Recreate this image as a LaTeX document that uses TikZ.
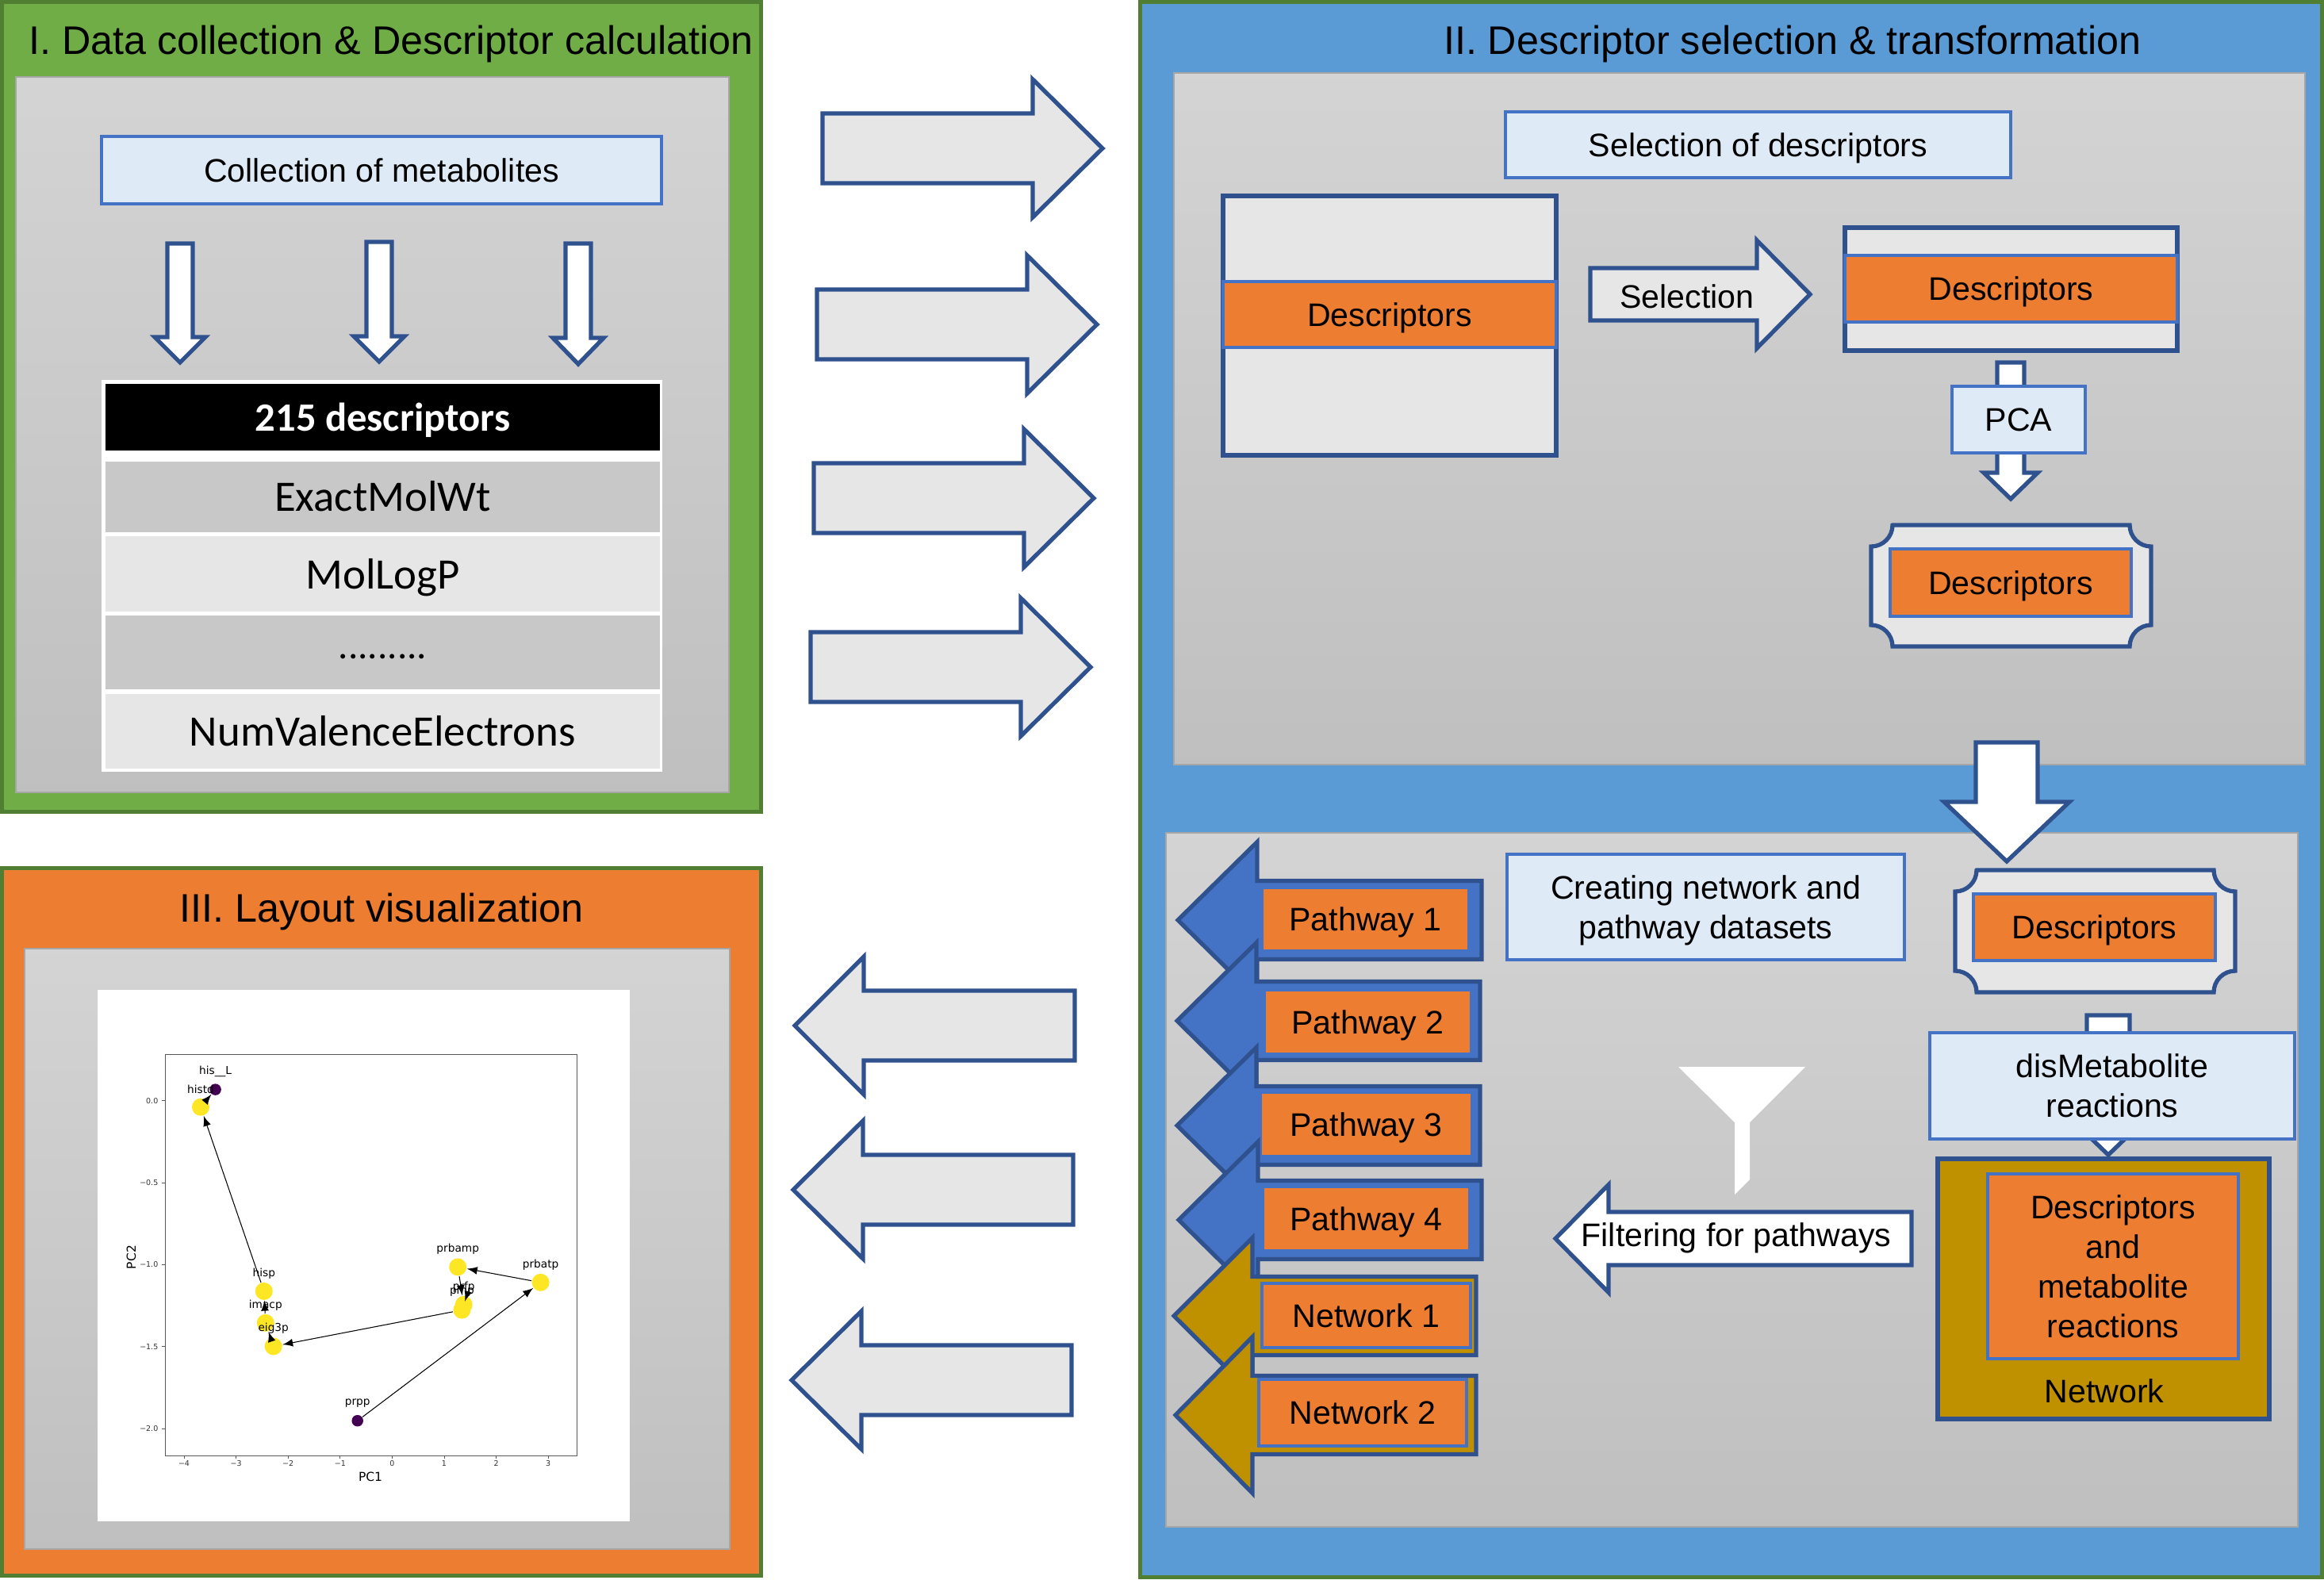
\documentclass[tikz,border=0pt]{standalone}
\usepackage{fontspec}
\setmainfont{Liberation Sans}
\newfontfamily\calfont{Carlito}
\newfontfamily\plotfont{DejaVu Sans}
\definecolor{arrowblue}{HTML}{2F528F}
\definecolor{boxblue}{HTML}{4472C4}
\definecolor{lightblue}{HTML}{DEEAF6}
\definecolor{orangefill}{HTML}{ED7D31}
\definecolor{panelgreen}{HTML}{70AD47}
\definecolor{edgegreen}{HTML}{507E32}
\definecolor{panelblue}{HTML}{5B9BD5}
\definecolor{lightgray}{HTML}{E6E6E6}
\definecolor{rowgray}{HTML}{C8C8C8}
\definecolor{panelline}{HTML}{A6A6A6}
\definecolor{netgold}{HTML}{BF9000}
\definecolor{plotyellow}{HTML}{FDE725}
\definecolor{plotdark}{HTML}{440154}
\begin{document}
\begin{tikzpicture}[panel/.style={rectangle,draw=edgegreen,line width=1.42pt,inner sep=0},textbox/.style={rectangle,draw=boxblue,fill=lightblue,line width=.9pt,align=center,inner sep=0,text depth=0pt,font=\fontsize{11.7}{14.2}\selectfont}]
		\tikzstyle{graypanel}=[rectangle,draw=panelline,line width=.7pt,top color=black!17,bottom color=black!25,inner sep=0]
		\tikzstyle{title}=[inner sep=0,text depth=0pt,font=\fontsize{14.3}{17}\selectfont]
		\tikzstyle{blockarrow}=[draw=arrowblue,line width=1.5pt,miter limit=10]
		\tikzstyle{framebox}=[rectangle,draw=arrowblue,fill=lightgray,line width=1.6pt,inner sep=0]
		\tikzstyle{band}=[rectangle,draw=boxblue,fill=orangefill,line width=.9pt,align=center,inner sep=0,text depth=0pt,font=\fontsize{11.7}{14.2}\selectfont]
		\tikzstyle{tablerow}=[rectangle,inner sep=0,minimum width=6.99cm,font=\calfont\fontsize{15.6}{18}\selectfont]
		\tikzstyle{lbl}=[inner sep=0,align=center,text depth=0pt,font=\fontsize{11.7}{14.2}\selectfont]
		\tikzstyle{plotnode}=[circle,inner sep=0,minimum size=.22cm]
		\tikzstyle{plotedge}=[draw=black,line width=.3pt,-latex]
		\tikzstyle{plottext}=[inner sep=0,font=\plotfont\fontsize{3.9}{5}\selectfont]
		\tikzstyle{ticktext}=[inner sep=0,font=\plotfont\fontsize{2.7}{3}\selectfont,text=black!80]
		\useasboundingbox (0,0) rectangle (29.30,-19.91);
		
		% panels
		\node[panel,fill=panelgreen,minimum width=9.57cm,minimum height=10.21cm] (panelone) at (4.81,-5.13){};
		\node[panel,fill=orangefill,minimum width=9.57cm,minimum height=8.92cm] (panelthree) at (4.81,-15.405){};
		\node[panel,fill=panelblue,minimum width=14.90cm,minimum height=19.86cm] (paneltwo) at (21.825,-9.955){};
		\node[graypanel,minimum width=8.99cm,minimum height=9.02cm] (grayone) at (4.695,-5.48){};
		\node[graypanel,minimum width=8.89cm,minimum height=7.57cm] (graythree) at (4.755,-15.745){};
		\node[graypanel,minimum width=14.26cm,minimum height=8.72cm] (graytwo) at (21.93,-5.28){};
		\node[graypanel,minimum width=14.27cm,minimum height=8.75cm] (grayfour) at (21.835,-14.875){};
		\node[title] (titleone) at (4.93,-.50){I. Data collection \& Descriptor calculation};
		\node[title] (titletwo) at (22.60,-.50){II. Descriptor selection \& transformation};
		\node[title] (titlethree) at (4.81,-11.44){III. Layout visualization};
		
		% horizontal block arrows: tail, head base, tip, centre, half widths
		\foreach \ta/\ba/\ti/\yy/\sh/\hh/\col in {
			10.37/13.02/13.90/-1.87/.44/.87/lightgray,
			10.30/12.95/13.83/-4.09/.44/.87/lightgray,
			10.26/12.91/13.79/-6.28/.44/.87/lightgray,
			10.22/12.87/13.75/-8.41/.44/.87/lightgray,
			13.55/10.89/10.02/-12.93/.44/.87/lightgray,
			13.53/10.88/10.00/-15.00/.44/.87/lightgray,
			13.51/10.86/9.98/-17.40/.44/.87/lightgray,
			20.05/22.15/22.82/-3.71/.33/.68/lightgray,
			24.10/20.28/19.61/-15.615/.335/.68/white}
		{\draw[blockarrow,fill=\col] (\ta,\yy+\sh) -- (\ba,\yy+\sh) -- (\ba,\yy+\hh) -- (\ti,\yy) -- (\ba,\yy-\hh) -- (\ba,\yy-\sh) -- (\ta,\yy-\sh) -- cycle;}
		
		% vertical block arrows: centre, top, head base, tip, half widths
		\foreach \xx/\ta/\ba/\ti/\sh/\hh in {
			2.27/-3.07/-4.25/-4.57/.16/.32,
			4.78/-3.05/-4.24/-4.56/.16/.32,
			7.29/-3.07/-4.26/-4.59/.16/.32,
			25.35/-4.57/-5.96/-6.29/.17/.34,
			25.30/-9.36/-10.11/-10.86/.39/.79,
			26.58/-12.80/-14.08/-14.56/.27/.50}
		{\draw[blockarrow,fill=white] (\xx-\sh,\ta) -- (\xx+\sh,\ta) -- (\xx+\sh,\ba) -- (\xx+\hh,\ba) -- (\xx,\ti) -- (\xx-\hh,\ba) -- (\xx-\sh,\ba) -- cycle;}
		
		% panel I
		\node[textbox,minimum width=7.06cm,minimum height=.85cm] (collect) at (4.81,-2.145){Collection of metabolites};
		\node[rectangle,fill=white,minimum width=7.07cm,minimum height=4.94cm,inner sep=0] (tableback) at (4.815,-7.26){};
		\node[tablerow,fill=black,text=white,text depth=0pt,minimum height=.84cm,font=\calfont\bfseries\fontsize{14.4}{18}\selectfont] (rowhead) at (4.825,-5.26){215 descriptors};
		\node[tablerow,fill=rowgray,minimum height=.89cm] (rowa) at (4.825,-6.265){\raisebox{.02cm}{ExactMolWt}};
		\node[tablerow,fill=lightgray,text depth=0pt,minimum height=.95cm] (rowb) at (4.825,-7.235){MolLogP};
		\node[tablerow,fill=rowgray,text height=.16cm,text depth=0pt,minimum height=.93cm,font=\calfont\fontsize{14}{18}\selectfont] (rowc) at (4.825,-8.225){.........};
		\node[tablerow,fill=lightgray,minimum height=.94cm] (rowd) at (4.825,-9.22){NumValenceElectrons};
		
		% panel II top
		\node[textbox,minimum width=6.37cm,minimum height=.83cm] (selectbox) at (22.165,-1.825){Selection of descriptors};
		\node[framebox,minimum width=4.2cm,minimum height=3.27cm] (largebox) at (17.52,-4.105){};
		\node[band,minimum width=4.2cm,minimum height=.83cm] (largeband) at (17.52,-3.965){Descriptors};
		\node[lbl] (selectlbl) at (21.27,-3.74){Selection};
		\node[framebox,minimum width=4.19cm,minimum height=1.55cm] (smallbox) at (25.355,-3.645){};
		\node[band,minimum width=4.19cm,minimum height=.84cm] (smallband) at (25.355,-3.64){Descriptors};
		\node[textbox,minimum width=1.68cm,minimum height=.84cm] (pca) at (25.45,-5.29){PCA};
		
		% plaques: left, right, top, bottom
		\foreach \xa/\xb/\ya/\yb in {23.59/27.12/-6.62/-8.15,24.65/28.18/-10.97/-12.51}
		{\draw[blockarrow,fill=lightgray] (\xa+.27,\ya) -- (\xb-.27,\ya) arc (180:270:.27) -- (\xb,\yb+.27) arc (90:180:.27) -- (\xa+.27,\yb) arc (0:90:.27) -- (\xa,\ya-.27) arc (270:360:.27) -- cycle;}
		\node[band,minimum width=3.04cm,minimum height=.85cm] (planda) at (25.35,-7.345){Descriptors};
		\node[band,minimum width=3.05cm,minimum height=.84cm] (plandb) at (26.405,-11.69){Descriptors};
		
		% panel II bottom
		\node[textbox,minimum width=5.01cm,minimum height=1.33cm] (creating) at (21.505,-11.435){Creating network and\\pathway datasets};
		\node[textbox,minimum width=4.6cm,minimum height=1.34cm] (dismet) at (26.63,-13.69){disMetabolite\\reactions};
		\node[framebox,fill=netgold,minimum width=4.18cm,minimum height=3.28cm] (netbox) at (26.52,-16.25){};
		\node[band,minimum width=3.16cm,minimum height=2.33cm] (netinner) at (26.64,-15.965){Descriptors\\and\\metabolite\\reactions};
		\node[lbl] (netlbl) at (26.53,-17.54){Network};
		\node[lbl] (filterlbl) at (21.89,-15.57){Filtering for pathways};
		\fill[white] (21.16,-13.45) -- (22.76,-13.45) -- (22.06,-14.15) -- (22.06,-14.87) -- (21.87,-15.06) -- (21.87,-14.15) -- cycle;
		
		% pathway and network arrows: tip, head base, right, centre
		\foreach \nm/\lab/\ti/\ba/\ri/\yy/\col/\cx/\cy/\cw/\ch in {
			pathone/Pathway 1/14.85/15.85/18.68/-11.60/boxblue/17.215/-11.59/2.61/.80,
			pathtwo/Pathway 2/14.84/15.84/18.66/-12.87/boxblue/17.245/-12.885/2.61/.81,
			paththree/Pathway 3/14.84/15.84/18.66/-14.19/boxblue/17.225/-14.175/2.67/.81,
			pathfour/Pathway 4/14.86/15.86/18.68/-15.38/boxblue/17.225/-15.365/2.61/.81,
			netone/Network 1/14.80/15.79/18.61/-16.59/netgold/17.225/-16.585/2.63/.81,
			nettwo/Network 2/14.82/15.79/18.61/-17.84/netgold/17.18/-17.81/2.62/.84}
		{\draw[blockarrow,fill=\col] (\ri,\yy+.495) -- (\ba,\yy+.495) -- (\ba,\yy+.985) -- (\ti,\yy) -- (\ba,\yy-.985) -- (\ba,\yy-.495) -- (\ri,\yy-.495) -- cycle;
			\node[band,minimum width=\cw cm,minimum height=\ch cm] (\nm) at (\cx,\cy){\lab};}
		
		% panel III plot
		\node[rectangle,fill=white,minimum width=6.71cm,minimum height=6.70cm,inner sep=0] (plotback) at (4.585,-15.83){};
		\node[rectangle,draw=black!65,line width=.25pt,minimum width=5.19cm,minimum height=5.06cm,inner sep=0] (axes) at (4.675,-15.82){};
		\foreach \i/\lab in {0/−4,1/−3,2/−2,3/−1,4/0,5/1,6/2,7/3}
		{\draw[black!65,line width=.25pt] (2.32+\i*.656,-18.35) -- (2.32+\i*.656,-18.39);
			\node[ticktext] (xt\i) at (2.32+\i*.656,-18.45){\lab};}
		\foreach \i/\lab in {0/0.0,1/−0.5,2/−1.0,3/−1.5,4/−2.0}
		{\draw[black!65,line width=.25pt] (2.08,-13.878-\i*1.033) -- (2.04,-13.878-\i*1.033);
			\node[ticktext,anchor=east] (yt\i) at (2.00,-13.878-\i*1.033){\lab};}
		\node[inner sep=0,font=\plotfont\fontsize{4.4}{5}\selectfont] (xlab) at (4.67,-18.62){PC1};
		\node[inner sep=0,rotate=90,font=\plotfont\fontsize{4.4}{5}\selectfont] (ylab) at (1.656,-15.85){PC2};
		\foreach \n/\x/\y in {histd/2.53/-13.957,hisp/3.328/-16.279,imacp/3.348/-16.678,eigp/3.447/-16.974,pmp/5.824/-16.516,prfp/5.847/-16.448,prbamp/5.772/-15.974,prbatp/6.816/-16.168}
		{\node[plotnode,fill=plotyellow] (\n) at (\x,\y){};}
		\foreach \n/\x/\y in {hisL/2.716/-13.736,prpp/4.507/-17.912}
		{\node[plotnode,fill=plotdark,minimum size=.145cm] (\n) at (\x,\y){};}
		\foreach \a/\b in {histd/hisL,hisp/histd,imacp/hisp,eigp/imacp,pmp/eigp,prfp/pmp,prbamp/prfp,prbatp/prbamp,prpp/prbatp}
		{\path[plotedge] (\a) -- (\b);}
		\foreach \n/\lab in {histd/histd,hisp/hisp,imacp/imacp,eigp/eig3p,pmp/pmp,prfp/prfp,prbamp/prbamp,prbatp/prbatp,hisL/his\_\_L,prpp/prpp}
		{\node[plottext,text=black] (l\n) at ([yshift=.225cm]\n.center){\lab};}
		
		\end{tikzpicture}
\end{document}
